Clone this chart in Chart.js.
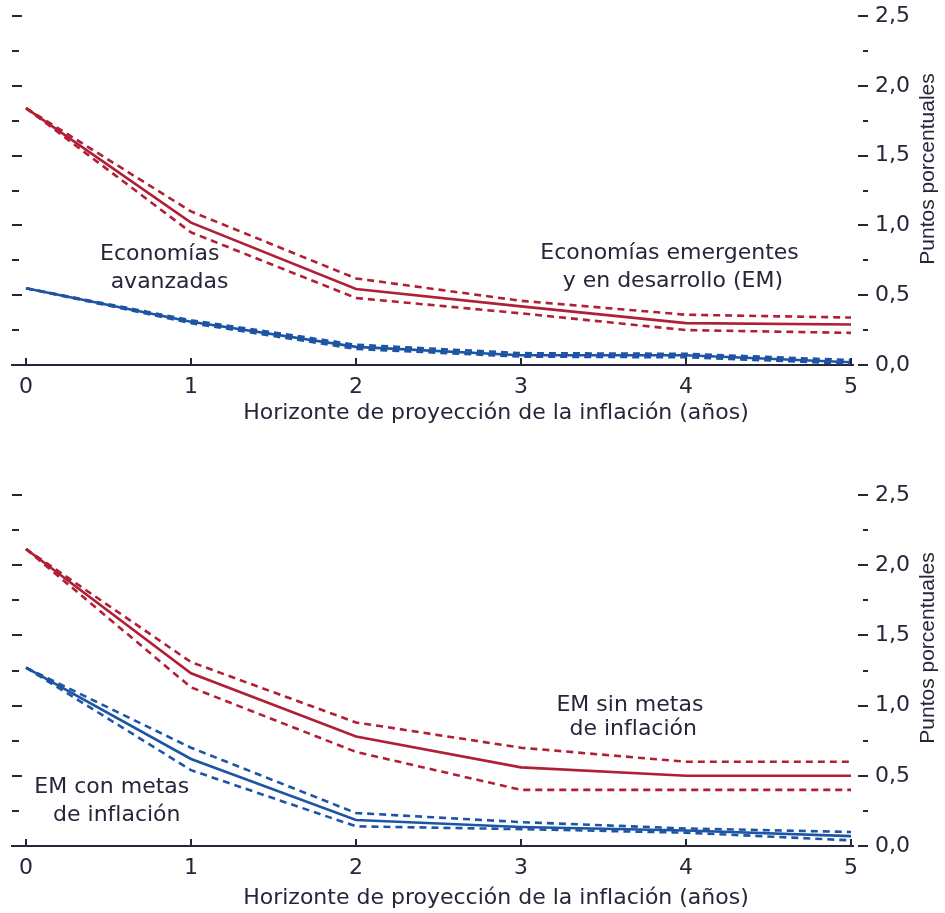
<!DOCTYPE html>
<html lang="es">
  <head>
    <meta charset="UTF-8" />
    <title>Horizonte de proyección de la inflación</title>
    <script src="https://cdn.jsdelivr.net/npm/chart.js"></script>
    <style>
      * {
        margin: 0;
        padding: 0;
        box-sizing: border-box;
      }
      body {
        width: 945px;
        height: 913px;
        background: #ffffff;
        position: relative;
        overflow: hidden;
      }
      .panel {
        position: absolute;
        left: 0;
        width: 945px;
      }
      #top {
        top: 0;
        height: 440px;
      }
      #bottom {
        top: 479px;
        height: 434px;
      }
    </style>
  </head>
  <body>
    <div class="panel" id="top"><canvas id="chartTop"></canvas></div>
    <div class="panel" id="bottom"><canvas id="chartBottom"></canvas></div>

    <script>
      // horizonte (años)
      const years = [0, 1, 2, 3, 4, 5];
      const yTicks = [0, 0.25, 0.5, 0.75, 1, 1.25, 1.5, 1.75, 2, 2.25, 2.5];

      // panel superior: economías emergentes y en desarrollo (EM)
      const emMid = [1.84, 1.02, 0.545, 0.42, 0.3, 0.29];
      const emHigh = [1.84, 1.1, 0.62, 0.46, 0.36, 0.34];
      const emLow = [1.84, 0.95, 0.48, 0.37, 0.25, 0.23];

      // panel superior: economías avanzadas
      const aeMid = [0.55, 0.31, 0.13, 0.07, 0.07, 0.02];
      const aeHigh = [0.55, 0.32, 0.145, 0.085, 0.08, 0.035];
      const aeLow = [0.55, 0.3, 0.115, 0.06, 0.055, 0.01];

      // panel inferior: EM sin metas de inflación
      const sinMid = [2.115, 1.23, 0.78, 0.56, 0.5, 0.5];
      const sinHigh = [2.115, 1.31, 0.88, 0.7, 0.6, 0.6];
      const sinLow = [2.115, 1.13, 0.67, 0.4, 0.4, 0.4];

      // panel inferior: EM con metas de inflación
      const conMid = [1.27, 0.62, 0.185, 0.135, 0.11, 0.07];
      const conHigh = [1.27, 0.7, 0.235, 0.17, 0.125, 0.1];
      const conLow = [1.27, 0.54, 0.14, 0.12, 0.095, 0.04];

      const RED = "#b01f35";
      const BLUE = "#1d55a4";
      const INK = "#26263a";
      const FONT = "'DejaVu Sans', sans-serif";

      function pts(values) {
        return years.map((x, i) => ({ x: x, y: values[i] }));
      }

      function line(values, color, dashed) {
        return {
          data: pts(values),
          borderColor: color,
          borderWidth: 2.6,
          borderDash: dashed ? [7, 5] : [],
          pointRadius: 0,
          tension: 0,
          fill: false,
        };
      }

      // ticks interiores, titulos de ejes y rotulos de series
      const decor = {
        id: "decor",
        afterDraw(chart, args, opts) {
          const { ctx, chartArea: a } = chart;
          const x = chart.scales.x;
          const y = chart.scales.y;
          ctx.save();
          ctx.strokeStyle = INK;
          ctx.lineWidth = 2;
          ctx.beginPath();
          yTicks.forEach((v, i) => {
            if (v === 0) return;
            const py = Math.round(y.getPixelForValue(v));
            const major = i % 2 === 0;
            ctx.moveTo(a.left, py);
            ctx.lineTo(a.left + (major ? 10 : 7), py);
          });
          yTicks.forEach((v, i) => {
            const py = Math.round(y.getPixelForValue(v));
            const major = i % 2 === 0;
            ctx.moveTo(a.right + (major ? 5 : 10), py);
            ctx.lineTo(a.right + 15, py);
          });
          years.forEach((v) => {
            const px = Math.round(x.getPixelForValue(v));
            ctx.moveTo(px, a.bottom - 7);
            ctx.lineTo(px, a.bottom);
          });
          ctx.stroke();

          ctx.fillStyle = INK;
          ctx.textAlign = "center";
          ctx.textBaseline = "middle";
          ctx.font = "22px " + FONT;
          ctx.fillText(
            "Horizonte de proyección de la inflación (años)",
            496,
            a.bottom + opts.titleGap
          );
          opts.notes.forEach((n) => {
            ctx.fillText(n.text, x.getPixelForValue(n.x), y.getPixelForValue(n.y));
          });

          ctx.font = "21px 'Liberation Sans', sans-serif";
          ctx.translate(928, a.top + 153);
          ctx.rotate(-Math.PI / 2);
          ctx.fillText("Puntos porcentuales", 0, 0);
          ctx.restore();
        },
      };

      function makeChart(id, datasets, notes, xHeight, titleGap) {
        return new Chart(document.getElementById(id), {
          type: "line",
          data: { datasets: datasets },
          plugins: [decor],
          options: {
            responsive: true,
            maintainAspectRatio: false,
            animation: false,
            layout: { padding: { top: 16, left: 12, right: 0, bottom: 0 } },
            plugins: {
              legend: { display: false },
              tooltip: { enabled: false },
              decor: { notes: notes, titleGap: titleGap },
            },
            scales: {
              x: {
                type: "linear",
                min: -0.085,
                max: 5.012,
                grid: { display: false },
                border: { display: true, color: INK, width: 2 },
                ticks: {
                  stepSize: 1,
                  includeBounds: false,
                  color: INK,
                  padding: 1,
                  font: { family: FONT, size: 22 },
                },
                afterFit(scale) {
                  scale.height = xHeight;
                  scale.paddingLeft = 0;
                  scale.paddingRight = 0;
                },
              },
              y: {
                type: "linear",
                position: "right",
                min: 0,
                max: 2.5,
                grid: { display: false },
                border: { display: false },
                ticks: {
                  stepSize: 0.5,
                  color: INK,
                  padding: 14,
                  font: { family: FONT, size: 22 },
                  callback: (v) => v.toFixed(1).replace(".", ","),
                },
                afterFit(scale) {
                  scale.width = 92;
                  scale.paddingTop = 0;
                  scale.paddingBottom = 0;
                },
              },
            },
          },
        });
      }

      makeChart(
        "chartTop",
        [
          line(emMid, RED, false),
          line(emHigh, RED, true),
          line(emLow, RED, true),
          line(aeMid, BLUE, false),
          line(aeHigh, BLUE, true),
          line(aeLow, BLUE, true),
        ],
        [
          { text: "Economías", x: 0.81, y: 0.79 },
          { text: "avanzadas", x: 0.87, y: 0.59 },
          { text: "Economías emergentes", x: 3.9, y: 0.8 },
          { text: "y en desarrollo (EM)", x: 3.92, y: 0.6 },
        ],
        75,
        48
      );

      makeChart(
        "chartBottom",
        [
          line(sinMid, RED, false),
          line(sinHigh, RED, true),
          line(sinLow, RED, true),
          line(conMid, BLUE, false),
          line(conHigh, BLUE, true),
          line(conLow, BLUE, true),
        ],
        [
          { text: "EM sin metas", x: 3.66, y: 1.0 },
          { text: "de inflación", x: 3.68, y: 0.83 },
          { text: "EM con metas", x: 0.52, y: 0.42 },
          { text: "de inflación", x: 0.55, y: 0.22 },
        ],
        67,
        52
      );
    </script>
  </body>
</html>
